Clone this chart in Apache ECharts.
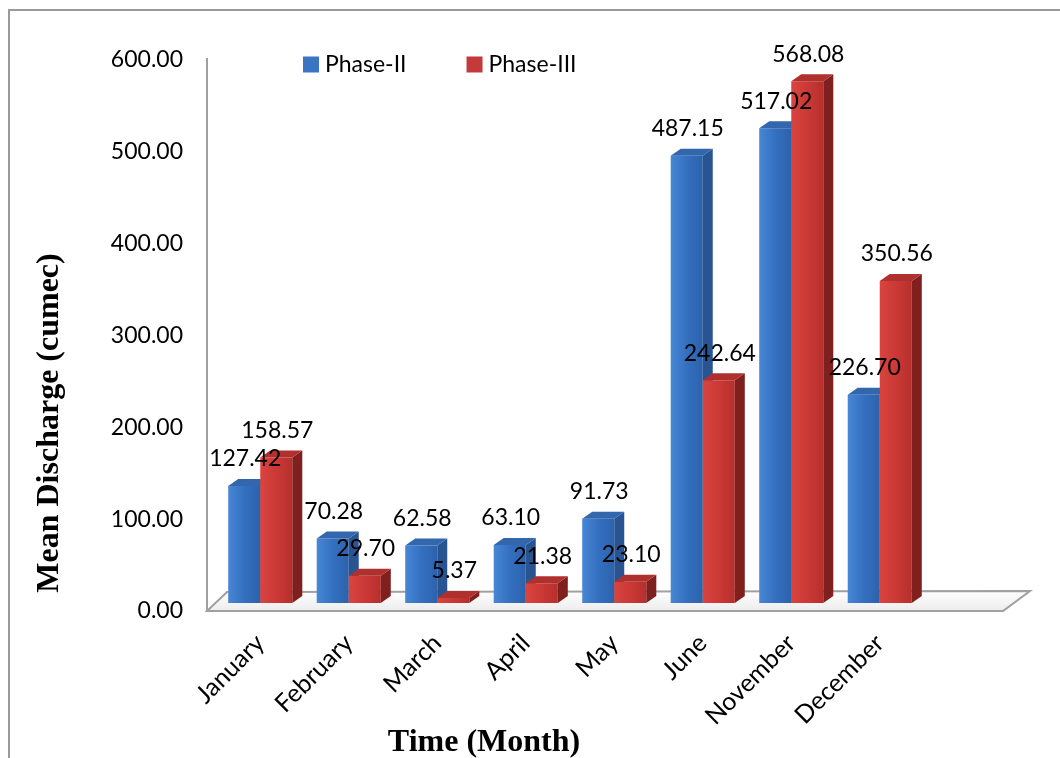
<!DOCTYPE html>
<html>
<head>
<meta charset="utf-8">
<script src="https://cdn.jsdelivr.net/npm/echarts@6/dist/echarts.min.js"></script>
<style>
  html, body { margin: 0; padding: 0; background: #fff; }
  #chart { width: 1060px; height: 758px; }
</style>
</head>
<body>
<div id="chart"></div>
<script>
// Monthly mean discharge (cumec) for the two phases
const months = ['January', 'February', 'March', 'April', 'May', 'June', 'November', 'December'];
const phase2 = [127.42, 70.28, 62.58, 63.10, 91.73, 487.15, 517.02, 226.70];
const phase3 = [158.57, 29.70, 5.37, 21.38, 23.10, 242.64, 568.08, 350.56];
const yMin = 0, yMax = 600, yStep = 100;

// plot frame
const GRID = { left: 216, top: 60, width: 708, height: 551 };
const LIFT = 8;      // bars stand a little behind the front edge of the floor
const DEPTH_X = 10;  // pseudo-3D depth of each bar
const DEPTH_Y = 7;
const FONT = 'Lato, "Open Sans", sans-serif';
const TITLE_FONT = 'bold 32px "Liberation Serif", "Times New Roman", serif';

const palette = [
  { front: ['#4787d6', '#3470c0', '#2c62ab'], side: '#285592', top: '#3266ad', legend: '#3a75c4' },
  { front: ['#d9443f', '#cb3936', '#b62f2c'], side: '#7f201f', top: '#b0302d', legend: '#c4393a' }
];

function barRenderer(phaseIdx) {
  return function (params, api) {
    const i = api.value(0);
    const v = api.value(1);
    const base = api.coord([i, 0]);
    const peak = api.coord([i, v]);
    const w = api.size([1, 0])[0] * 0.362;
    const cx = base[0];
    const x0 = phaseIdx === 0 ? cx - w : cx;
    const yb = base[1] - LIFT;
    const yt = peak[1] - LIFT;
    const c = palette[phaseIdx];
    return {
      type: 'group',
      children: [
        {
          type: 'rect',
          shape: { x: x0, y: yt, width: w, height: yb - yt },
          style: {
            fill: new echarts.graphic.LinearGradient(0, 0, 1, 0, [
              { offset: 0, color: c.front[0] },
              { offset: 0.5, color: c.front[1] },
              { offset: 1, color: c.front[2] }
            ])
          }
        },
        {
          type: 'polygon',
          shape: { points: [[x0 + w, yb], [x0 + w + DEPTH_X, yb - DEPTH_Y], [x0 + w + DEPTH_X, yt - DEPTH_Y], [x0 + w, yt]] },
          style: { fill: c.side }
        },
        {
          type: 'polygon',
          shape: { points: [[x0, yt], [x0 + DEPTH_X, yt - DEPTH_Y], [x0 + w + DEPTH_X, yt - DEPTH_Y], [x0 + w, yt]] },
          style: { fill: c.top }
        },
        {
          type: 'text',
          z2: 100,
          style: {
            text: v.toFixed(2),
            x: x0 + w / 2 + 1,
            y: yt - 27,
            align: 'center',
            verticalAlign: 'middle',
            fill: '#000',
            font: '23px ' + FONT
          }
        }
      ]
    };
  };
}

const chart = echarts.init(document.getElementById('chart'), null, { renderer: 'canvas' });

const zeroY = GRID.top + GRID.height;
const axisColor = '#a0a0a0';

chart.setOption({
  animation: false,
  backgroundColor: '#fff',
  grid: GRID,
  legend: {
    left: 298,
    top: 48,
    itemWidth: 16,
    itemHeight: 16,
    itemGap: 60,
    icon: 'rect',
    textStyle: { fontFamily: FONT, fontSize: 23, color: '#000', padding: [0, 0, 0, 1] },
    data: [
      { name: 'Phase-II', itemStyle: { color: palette[0].legend } },
      { name: 'Phase-III', itemStyle: { color: palette[1].legend } }
    ]
  },
  xAxis: {
    type: 'category',
    data: months,
    axisLine: { show: false },
    axisTick: { show: false },
    axisLabel: {
      rotate: 45,
      margin: 28,
      interval: 0,
      fontFamily: FONT,
      fontSize: 25,
      color: '#000'
    }
  },
  yAxis: {
    type: 'value',
    min: yMin,
    max: yMax,
    interval: yStep,
    axisLine: { show: false },
    axisTick: { show: false },
    splitLine: { show: false },
    axisLabel: {
      margin: 33,
      fontFamily: FONT,
      fontSize: 23,
      color: '#000',
      formatter: (val) => val.toFixed(2)
    }
  },
  graphic: [
    // outer frame
    { type: 'rect', z: -10, shape: { x: 9, y: 10, width: 1200, height: 900 }, style: { fill: 'none', stroke: '#9a9a9a', lineWidth: 2 } },
    // floor
    {
      type: 'polygon', z: -5,
      shape: { points: [[207, zeroY], [1003, zeroY], [1030, zeroY - 20], [227, zeroY - 19]] },
      style: {
        fill: new echarts.graphic.LinearGradient(0, 0, 0, 1, [
          { offset: 0, color: '#ffffff' },
          { offset: 1, color: '#ececec' }
        ]),
        stroke: axisColor, lineWidth: 2
      }
    },
    // value axis wall edge
    { type: 'line', z: -5, shape: { x1: 207, y1: 58, x2: 207, y2: zeroY }, style: { stroke: axisColor, lineWidth: 2 } },
    // axis titles
    {
      type: 'text', x: 484, y: 743,
      style: { text: 'Time (Month)', align: 'center', verticalAlign: 'middle', font: TITLE_FONT, fill: '#000' }
    },
    {
      type: 'text', x: 50, y: 423, rotation: Math.PI / 2,
      style: { text: 'Mean Discharge (cumec)', align: 'center', verticalAlign: 'middle', font: TITLE_FONT, fill: '#000' }
    }
  ],
  series: [
    {
      name: 'Phase-II',
      type: 'custom',
      itemStyle: { color: palette[0].legend },
      renderItem: barRenderer(0),
      encode: { x: 0, y: 1 },
      data: phase2.map((v, i) => [i, v])
    },
    {
      name: 'Phase-III',
      type: 'custom',
      itemStyle: { color: palette[1].legend },
      renderItem: barRenderer(1),
      encode: { x: 0, y: 1 },
      data: phase3.map((v, i) => [i, v])
    }
  ]
});
</script>
</body>
</html>
